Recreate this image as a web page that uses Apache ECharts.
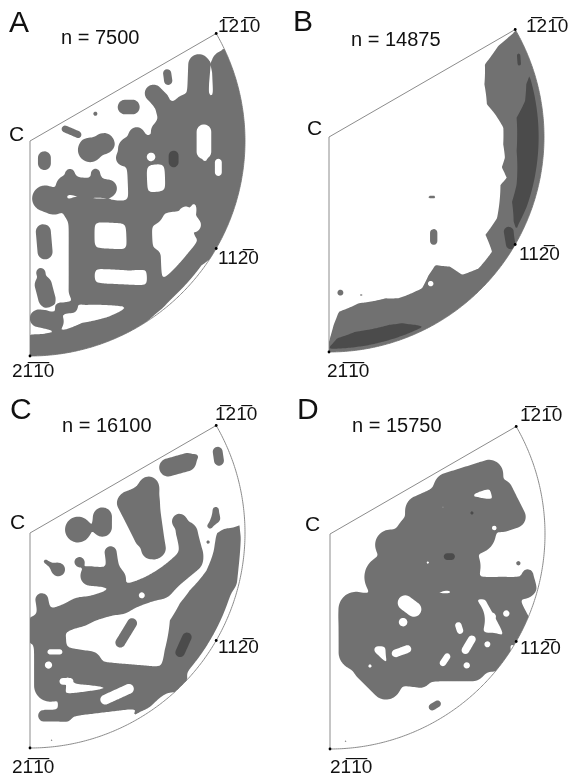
<!DOCTYPE html>
<html>
<head>
<meta charset="utf-8">
<script src="https://cdn.jsdelivr.net/npm/echarts@6/dist/echarts.min.js"></script>
<style>
  html, body { margin: 0; padding: 0; background: #fff; }
  #chart { width: 574px; height: 777px; }
</style>
</head>
<body>
<div id="chart"></div>
<script>
// Inverse pole figures (hexagonal, 120° sector of the stereographic projection).
// Units: the c-axis pole sits at the origin, the primitive circle has radius 100.
// Density clusters: [u1, v1, u2, v2, radius] (a capsule-shaped region of high density).

const panelLetters = ['A', 'B', 'C', 'D'];
const sampleSizes = [7500, 14875, 16100, 15750];

// ---- A ----
const clustersA = [
  [78.5, 35.5, 78, 22, 4.9], [89.5, 37, 90, 22, 4.6], [72, 17, 92, 15, 4.3], [63, 14, 72, 14, 4],
  [63.8, 31.5, 64.3, 28, 1.9], [57.4, 22.2, 60.5, 19.1, 4], [44.2, 15.8, 47.6, 15.8, 3.4],
  [30.4, 12.7, 30.4, 12.7, 1], [16.3, 5.6, 22.2, 3.1, 1.6],
  [27.9, -4.2, 27.9, -4.2, 5.6], [34.4, -1.1, 34.4, -1.1, 4.8], [6.7, -7.8, 6.7, -10.5, 3],
  [49.6, 2.8, 51.2, -8.1, 3.6], [43.4, -8.1, 62.8, -7.3, 3.3], [46, -3, 60, -2, 4.6], [60, 5, 64, 9, 3.5],
  [65.9, 7.4, 96.9, 9, 5.5], [68.2, 7.4, 69, -23.6, 6], [75, 8, 75, -12, 4.3], [87, 8, 87, -12, 4.2],
  [70, -5, 80, -20, 5], [72.1, -15.8, 93.8, -15.8, 5.5], [80, -24, 90, -32, 5.3], [82, -28, 80, -42, 3.8],
  [49.6, -10.4, 50.4, -29, 4.5], [7, -26.7, 10.9, -28.2, 6],
  [16.3, -20.5, 36.4, -22, 4], [18.6, -15, 19.4, -19.7, 2], [30.5, -15, 31, -18.9, 2],
  [20.9, -32.1, 56.6, -33.6, 5.2], [24, -33.6, 24, -69.3, 6], [50.4, -33.6, 51.2, -53.8, 6],
  [28.7, -54.5, 45.7, -55.3, 4.8], [27.1, -70.9, 58.1, -72.4, 5], [57.4, -53.8, 58.1, -69.3, 3.4],
  [56.6, -29, 70.5, -27.4, 5],
  [6.2, -42.2, 7, -51.5, 3.5], [5, -61.1, 5, -61.1, 2], [6.2, -67, 7.8, -73.2, 4],
  [14.7, -77.8, 19.4, -77.4, 2.6], [3.9, -82.5, 11.6, -84, 4]
];
const gapsA = [
  [80.9, 4.3, 80.9, -5, 3.4], [87.6, -9.9, 87.6, -14.7, 1.6], [56.3, -7.4, 56.3, -7.4, 2],
  [72.5, -34, 76, -39, 3.5]
];
const coresA = [[66.8, -6.8, 66.8, -9.9, 2.3]];
// rim bands: [azimuth in degrees, inner radius, outer radius]
const rimA = [
  [25, 99, 102], [18, 93, 102], [10, 90, 102], [0, 90, 102], [-10, 91, 102], [-20, 91, 102],
  [-30, 91, 102], [-36, 90, 98.5], [-50, 89, 98.5], [-57, 90, 100], [-66, 89.5, 102],
  [-74, 88, 102], [-82, 90, 102], [-90, 90, 102]
];

// ---- B ----
const clustersB = [
  [48.7, -44.5, 48.7, -48.5, 1.7], [46.8, -27.9, 48.8, -27.9, 0.6],
  [5.3, -72.4, 5.3, -72.4, 1.4], [15, -73.5, 15, -73.5, 0.5]
];
const gapsB = [[47.3, -68.2, 47.3, -68.2, 1.3]];
const coresB = [[88.2, 38, 88.5, 34, 0.8], [83.5, -44, 84.5, -50, 2.2]];
const rimB = [
  [29.5, 99, 102], [28.3, 89.4, 102], [25, 80, 102], [18.7, 76.3, 102], [11.7, 75, 102],
  [7.8, 78, 102], [3.1, 81.2, 102], [-2.4, 81.1, 102], [-6.7, 82.4, 102], [-10, 81.6, 102],
  [-12.9, 84.8, 102], [-15.6, 82.8, 102], [-25.8, 86.8, 102], [-32, 85.8, 102],
  [-35.1, 92.7, 102], [-41.3, 92.6, 102], [-46, 89.1, 102], [-46.9, 82.6, 102],
  [-50.3, 77.4, 102], [-54.2, 79.2, 102], [-58.4, 82.6, 102], [-66.6, 81.7, 102],
  [-70.7, 79.5, 102], [-79.9, 78.6, 102], [-86.8, 81.4, 102], [-88.6, 87.5, 102], [-90, 95, 102]
];
const coreStripB = [
  [17, 97.5, 97.5], [15, 95, 97.5], [10.4, 92.7, 97.5], [5.9, 87.7, 97.5], [0, 87.5, 97.5],
  [-4.3, 87.5, 97.5], [-14.2, 90, 97.5], [-19.5, 90.3, 97.5], [-24.6, 94.5, 97], [-26, 97, 97]
];
const coreLensB = [
  [-64, 98, 98.5], [-65, 96.5, 98.5], [-68.6, 93, 98.5], [-72.4, 91.7, 98.5],
  [-82.3, 91.4, 98.5], [-87.7, 93.7, 98.5], [-89.5, 97, 98.5]
];

// ---- C ----
const clustersC = [
  [64.3, 30.5, 72.9, 32.9, 4.2], [73.6, 33.2, 77.1, 35.5, 0.8], [87.3, 37.8, 87.9, 33.6, 2.3],
  [45, 14, 53, -2, 4.5], [55, 22, 59, -7, 4], [56, -8, 57, -8, 4], [50, 12, 55, 15, 4], [47, 16, 56, 21, 3.5],
  [22.3, 1.6, 22.3, 1.6, 6], [33.7, 7.5, 33.7, 2.7, 4.4],
  [13.2, -17, 13.2, -17, 3], [7.3, -13.3, 12.4, -16.7, 0.9], [23, -13.5, 23, -13.5, 2.3],
  [37.5, -9, 38.5, -16, 2.8], [28, -20, 40, -21, 4.5],
  [69.5, 5.5, 69.5, 5.5, 3.4], [73, 0, 75, -9, 5],
  [86.4, 10.7, 86.4, 6.8, 1.4], [86.4, 6.8, 83.7, 3.3, 1.2], [82.8, -4.2, 82.8, -4.2, 0.7],
  [92, -3, 91, -22, 5],
  [74.4, -12.6, 60.5, -24.2, 5.8], [60.5, -24.2, 41.9, -31.2, 5.8], [41.9, -31.2, 23.3, -36.7, 5.8],
  [23.3, -36.7, 2.3, -45.1, 6.2], [5.5, -31, 6.5, -37, 3],
  [47.5, -42, 42, -51, 2.3],
  [9.3, -50, 9.3, -71, 7.4], [18.6, -80, 52, -76, 5.3], [23.3, -64.7, 67.4, -68.4, 5.6],
  [15, -58, 28, -60, 5],
  [6.5, -85, 16.5, -85, 2.7], [10.1, -96.3, 10.1, -96.3, 0.5]
];
const gapsC = [
  [9.3, -55.3, 13.9, -55.3, 1.2], [8.6, -61.4, 8.6, -61.4, 1.7], [15.3, -69, 18.6, -69, 1.6],
  [35, -77.5, 46, -72.5, 2.3], [52, -29, 52, -29, 1.4]
];
const coresC = [[73, -48.5, 69.8, -55.5, 2.2]];
const rimC = [
  [2, 97, 97.5], [0, 88, 97.5], [-5, 86.5, 97.5], [-12, 84, 97.5], [-19.6, 79, 97.5],
  [-25, 77, 97.5], [-32, 76.7, 97.5], [-41, 83, 97.5], [-48.5, 90, 97.5], [-55, 94, 97.5],
  [-60, 97, 97.5]
];

// ---- D ----
const clustersD = [
  [55, 22, 74, 28, 6.5], [42, 11, 58, 18, 7], [80, 20, 86, 8, 5], [68, 10, 80, 8, 7],
  [40, 0, 68, 0, 9], [28, -5, 40, -5, 7], [26, -20, 60, -15, 10], [12, -35, 12, -55, 8],
  [20, -40, 60, -40, 12], [18, -62, 26, -70, 7], [35, -55, 75, -55, 9], [48, -62, 66, -62, 6.5],
  [34, -66, 42, -67, 4.5], [80, -30, 88, -45, 7], [62, -25, 90, -25, 5], [92, -19, 93, -25, 2.5],
  [8, -38, 10, -32, 1.5], [47.5, -80.5, 50, -79, 1.6], [7.3, -96.3, 7.3, -96.3, 0.5],
  [87.6, -13.6, 87.6, -13.6, 1]
];
const gapsD = [
  [35, -32, 39, -35, 3.5], [34, -41, 34, -41, 2], [30.5, -55.5, 36, -53.5, 1.8],
  [18.6, -61.4, 18.6, -61.4, 0.8], [52.5, -60, 54.5, -57, 1.5], [63, -54, 66, -49, 1.8],
  [73.2, -51.3, 73.2, -51.3, 1.4], [63.6, -61.1, 63.6, -61.1, 1.5], [75.2, -38.5, 75.2, -38.5, 2],
  [82, -37, 82, -37, 1.5], [59.7, -42.5, 60.5, -45, 1.5], [76.4, 2.8, 76.4, 2.8, 1.1],
  [45.5, -13.3, 45.5, -13.3, 0.6], [52.7, 12.4, 52.7, 12.4, 0.4]
];
const coresD = [[54.5, -10.5, 56.5, -10.5, 1.6], [66, 9.8, 66, 9.8, 0.8]];

const panelData = [
  { clusters: clustersA, gaps: gapsA, rims: [rimA], cores: coresA, coreRims: [] },
  { clusters: clustersB, gaps: gapsB, rims: [rimB], cores: coresB, coreRims: [coreStripB, coreLensB] },
  { clusters: clustersC, gaps: gapsC, rims: [rimC], cores: coresC, coreRims: [] },
  { clusters: clustersD, gaps: gapsD, rims: [], cores: coresD, coreRims: [] }
];

// ---- layout (pixels) ----
const centers = [[30, 141], [329, 137], [30, 533], [330, 534]];
const RPX = 215;
const GRAY = '#717171', DARK = '#4b4b4b', EDGE = '#8c8c8c', INK = '#111111';
const FONT = '"Liberation Sans", Arial, Helvetica, sans-serif';

// ---- density field helpers ----
const DEG = Math.PI / 180;
function capsule(u, v, s) {
  const dx = s[2] - s[0], dy = s[3] - s[1];
  const L = dx * dx + dy * dy;
  let t = L > 0 ? ((u - s[0]) * dx + (v - s[1]) * dy) / L : 0;
  t = t < 0 ? 0 : (t > 1 ? 1 : t);
  const px = s[0] + t * dx - u, py = s[1] + t * dy - v;
  return s[4] - Math.sqrt(px * px + py * py);
}
function rimValue(u, v, rim) {
  const rho = Math.sqrt(u * u + v * v);
  const th = Math.atan2(v, u) / DEG;
  const first = rim[0], last = rim[rim.length - 1];
  let inner, outer, extra = 0;
  if (th >= first[0]) {
    inner = first[1]; outer = first[2]; extra = (th - first[0]) * DEG * rho;
  } else if (th <= last[0]) {
    inner = last[1]; outer = last[2]; extra = (last[0] - th) * DEG * rho;
  } else {
    let i = 0;
    while (i < rim.length - 2 && rim[i + 1][0] > th) i++;
    const a = rim[i], b = rim[i + 1];
    const t = (a[0] - th) / (a[0] - b[0]);
    inner = a[1] + t * (b[1] - a[1]);
    outer = a[2] + t * (b[2] - a[2]);
  }
  return Math.min(rho - inner, outer - rho) - extra;
}
function sector(u, v) {
  return Math.min(100 - Math.sqrt(u * u + v * v), u, 0.5 * u - 0.8660254 * v);
}
const K = 1.1;
function smoothUnion(vals) {
  let m = -Infinity;
  for (let i = 0; i < vals.length; i++) if (vals[i] > m) m = vals[i];
  if (m === -Infinity) return -1e3;
  let s = 0;
  for (let i = 0; i < vals.length; i++) s += Math.exp((vals[i] - m) / K);
  return m + K * Math.log(s);
}
function makeFields(p) {
  const buf = [];
  function collect(u, v, withGray) {
    buf.length = 0;
    if (withGray) {
      for (const c of p.clusters) buf.push(capsule(u, v, c));
      for (const r of p.rims) buf.push(rimValue(u, v, r));
    }
    for (const c of p.cores) buf.push(capsule(u, v, c));
    for (const r of p.coreRims) buf.push(rimValue(u, v, r));
    return smoothUnion(buf);
  }
  const gray = (u, v) => {
    const g = collect(u, v, true);
    let h = -1e3;
    for (const c of p.gaps) { const d = capsule(u, v, c); if (d > h) h = d; }
    return Math.min(sector(u, v), g, -h);
  };
  const dark = (u, v) => Math.min(sector(u, v), collect(u, v, false));
  return { gray, dark };
}

// marching squares -> filled SVG path, vertices mapped through the grid's axes
function contourPath(field, api) {
  const h = 0.7, u0 = -1.4, v0 = -101.5;
  const nx = Math.ceil((101.6 - u0) / h) + 1, ny = Math.ceil((51.6 - v0) / h) + 1;
  const vals = new Float32Array(nx * ny);
  for (let j = 0; j < ny; j++) for (let i = 0; i < nx; i++) vals[j * nx + i] = field(u0 + i * h, v0 + j * h);
  const P = (u, v) => { const q = api.coord([u, v]); return q[0].toFixed(2) + ' ' + q[1].toFixed(2); };
  const rect = (ua, ub, vb, vt) => 'M' + P(ua, vt) + 'L' + P(ub, vt) + 'L' + P(ub, vb) + 'L' + P(ua, vb) + 'Z';
  const parts = [];
  for (let j = 0; j < ny - 1; j++) {
    const vb = v0 + j * h, vt = vb + h;
    let run = null;
    for (let i = 0; i < nx - 1; i++) {
      const ul = u0 + i * h, ur = ul + h;
      const a = vals[(j + 1) * nx + i], b = vals[(j + 1) * nx + i + 1];
      const c = vals[j * nx + i + 1], d = vals[j * nx + i];
      if (a >= 0 && b >= 0 && c >= 0 && d >= 0) { if (run === null) run = ul; continue; }
      if (run !== null) { parts.push(rect(run, ul, vb, vt)); run = null; }
      if (a < 0 && b < 0 && c < 0 && d < 0) continue;
      const cs = [[ul, vt, a], [ur, vt, b], [ur, vb, c], [ul, vb, d]];
      const pts = [];
      for (let k = 0; k < 4; k++) {
        const p = cs[k], q = cs[(k + 1) % 4];
        if (p[2] >= 0) pts.push(P(p[0], p[1]));
        if ((p[2] >= 0) !== (q[2] >= 0)) {
          const t = p[2] / (p[2] - q[2]);
          pts.push(P(p[0] + t * (q[0] - p[0]), p[1] + t * (q[1] - p[1])));
        }
      }
      parts.push('M' + pts.join('L') + 'Z');
    }
    if (run !== null) parts.push(rect(run, u0 + (nx - 1) * h, vb, vt));
  }
  return parts.join('');
}

function outlinePath(api) {
  const P = (u, v) => { const q = api.coord([u, v]); return q[0].toFixed(2) + ' ' + q[1].toFixed(2); };
  let s = 'M' + P(0, 0) + 'L' + P(100 * Math.cos(30 * DEG), 100 * Math.sin(30 * DEG));
  for (let a = 29.5; a >= -90; a -= 0.5) s += 'L' + P(100 * Math.cos(a * DEG), 100 * Math.sin(a * DEG));
  return s + 'Z';
}

const cache = {};
function renderPanel(idx) {
  return function (params, api) {
    if (!cache[idx]) {
      const f = makeFields(panelData[idx]);
      cache[idx] = { gray: contourPath(f.gray, api), dark: contourPath(f.dark, api), edge: outlinePath(api) };
    }
    const poles = [[100 * Math.cos(30 * DEG), 50], [100 * Math.cos(30 * DEG), -50], [0, -100]];
    const dots = poles.map(pt => {
      const q = api.coord(pt);
      return { type: 'circle', shape: { cx: q[0], cy: q[1], r: 1.4 }, style: { fill: '#000' } };
    });
    return {
      type: 'group',
      children: [
        { type: 'path', shape: { pathData: cache[idx].edge }, style: { fill: '#fff', stroke: EDGE, lineWidth: 1 } },
        { type: 'path', shape: { pathData: cache[idx].gray }, style: { fill: GRAY } },
        { type: 'path', shape: { pathData: cache[idx].dark }, style: { fill: DARK } }
      ].concat(dots)
    };
  };
}

// ---- labels ----
const BAR = '\u0305';
const poleTop = '1' + BAR + '21' + BAR + '0';
const poleMid = '112' + BAR + '0';
const poleBottom = '21' + BAR + '1' + BAR + '0';
const labelSpots = [
  { letter: [9, 24], n: [61, 38.5], top: [218, 27], mid: [218, 259], bottom: [12, 372], c: [9, 135.5] },
  { letter: [293, 23], n: [351, 40], top: [526, 27], mid: [519, 255], bottom: [327, 372], c: [307, 129.5] },
  { letter: [10, 411], n: [62, 426.5], top: [215, 414.5], mid: [218, 648], bottom: [12, 768], c: [10, 523.5] },
  { letter: [297, 411], n: [352, 426.5], top: [520, 416], mid: [520, 649], bottom: [330, 767.5], c: [305, 525.5] }
];
function txt(pos, text, size) {
  return {
    type: 'text', x: pos[0], y: pos[1], silent: true,
    style: {
      text: text, font: 'normal ' + size + 'px ' + FONT, fill: INK,
      align: 'left', verticalAlign: 'middle', textAlign: 'left', textVerticalAlign: 'middle'
    }
  };
}
const graphics = [];
labelSpots.forEach((s, i) => {
  graphics.push(txt(s.letter, panelLetters[i], 30));
  graphics.push(txt(s.n, 'n = ' + sampleSizes[i], 20));
  graphics.push(txt(s.top, poleTop, 19));
  graphics.push(txt(s.mid, poleMid, 19));
  graphics.push(txt(s.bottom, poleBottom, 19));
  graphics.push(txt(s.c, 'C', 21));
});

const grids = [], xAxes = [], yAxes = [], series = [];
centers.forEach((c, i) => {
  grids.push({ left: c[0], top: c[1] - RPX * 0.5, width: RPX, height: RPX * 1.5 });
  xAxes.push({ type: 'value', gridIndex: i, min: 0, max: 100, show: false });
  yAxes.push({ type: 'value', gridIndex: i, min: -100, max: 50, show: false });
  series.push({
    type: 'custom', coordinateSystem: 'cartesian2d', xAxisIndex: i, yAxisIndex: i,
    silent: true, data: [[0, 0]], renderItem: renderPanel(i)
  });
});

const chart = echarts.init(document.getElementById('chart'), null, { renderer: 'canvas' });
chart.setOption({
  animation: false,
  backgroundColor: '#ffffff',
  grid: grids, xAxis: xAxes, yAxis: yAxes,
  series: series,
  graphic: graphics
});
</script>
</body>
</html>
